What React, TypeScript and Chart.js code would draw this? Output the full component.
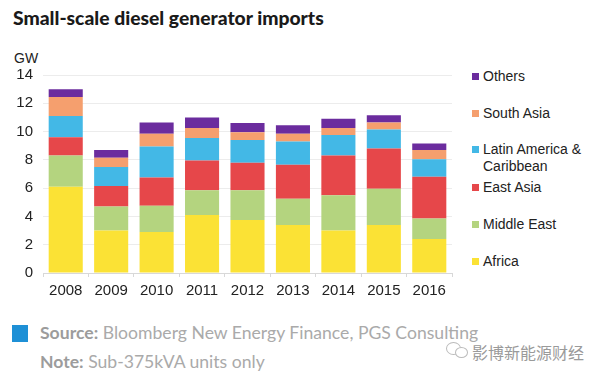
import React, { useEffect, useRef } from "react";
import { Chart, registerables } from "chart.js";

Chart.register(...registerables);

const years = ["2008", "2009", "2010", "2011", "2012", "2013", "2014", "2015", "2016"];
const africa = [6.1, 3.0, 2.9, 4.1, 3.75, 3.4, 3.0, 3.4, 2.4];
const middleEast = [2.2, 1.7, 1.85, 1.75, 2.1, 1.85, 2.5, 2.55, 1.45];
const eastAsia = [1.3, 1.45, 2.0, 2.1, 1.95, 2.4, 2.8, 2.85, 2.95];
const latinAmerica = [1.5, 1.35, 2.2, 1.6, 1.6, 1.65, 1.45, 1.35, 1.25];
const southAsia = [1.35, 0.65, 0.9, 0.7, 0.55, 0.55, 0.5, 0.5, 0.65];
const others = [0.55, 0.55, 0.8, 0.75, 0.65, 0.6, 0.65, 0.5, 0.45];
const yTicks = [0, 2, 4, 6, 8, 10, 12, 14];

const series = [
  { label: "Africa", data: africa, color: "#FBE235" },
  { label: "Middle East", data: middleEast, color: "#B4D47F" },
  { label: "East Asia", data: eastAsia, color: "#E6474A" },
  { label: "Latin America & Caribbean", data: latinAmerica, color: "#43B8E6" },
  { label: "South Asia", data: southAsia, color: "#F59F6E" },
  { label: "Others", data: others, color: "#6B2C9E" },
];

const legendItems = [
  { lines: ["Others"], color: "#6B2C9E", top: 68 },
  { lines: ["South Asia"], color: "#F59F6E", top: 105 },
  { lines: ["Latin America &", "Caribbean"], color: "#43B8E6", top: 141 },
  { lines: ["East Asia"], color: "#E6474A", top: 179 },
  { lines: ["Middle East"], color: "#B4D47F", top: 216 },
  { lines: ["Africa"], color: "#FBE235", top: 253 },
];

export default function App() {
  const ref = useRef<HTMLCanvasElement | null>(null);

  useEffect(() => {
    document.body.style.margin = "0";
    const canvas = ref.current;
    if (!canvas) return;
    const chart = new Chart(canvas, {
      type: "bar",
      data: {
        labels: years,
        datasets: series.map((s) => ({
          label: s.label,
          data: s.data,
          backgroundColor: s.color,
          borderWidth: 0,
          barPercentage: 0.75,
          categoryPercentage: 1,
        })),
      },
      options: {
        responsive: false,
        animation: false,
        layout: { padding: { top: 25, right: 8, left: 0, bottom: 0 } },
        plugins: { legend: { display: false }, tooltip: { enabled: false } },
        scales: {
          x: {
            stacked: true,
            grid: { drawOnChartArea: false, color: "#d8d8d8", tickLength: 4 },
            border: { color: "#d8d8d8" },
            ticks: {
              color: "#222",
              font: { family: "'Liberation Sans', Arial, sans-serif", size: 15 },
              padding: 5,
            },
            afterFit: (scale: any) => {
              scale.height = 27;
            },
          },
          y: {
            stacked: true,
            min: 0,
            max: 14,
            afterBuildTicks: (scale: any) => {
              scale.ticks = yTicks.map((v) => ({ value: v }));
            },
            grid: { color: "#ececec", drawTicks: false },
            border: { display: false },
            ticks: {
              color: "#222",
              font: { family: "'Liberation Sans', Arial, sans-serif", size: 15 },
              padding: 10,
            },
            afterFit: (scale: any) => {
              scale.width = 43;
            },
          },
        },
      },
    });
    return () => chart.destroy();
  }, []);

  const sans = "'Liberation Sans', Arial, sans-serif";

  return (
    <div style={{ position: "relative", width: 589, height: 380, background: "#fff", overflow: "hidden" }}>
      <div
        style={{
          position: "absolute",
          left: 13,
          top: 6,
          fontFamily: "Lato, sans-serif",
          fontWeight: 900,
          fontSize: 19.3,
          color: "#1a1a1a",
          whiteSpace: "nowrap",
        }}
      >
        Small-scale diesel generator imports
      </div>
      <div style={{ position: "absolute", left: 14, top: 50, fontFamily: sans, fontSize: 14, color: "#222" }}>GW</div>
      <canvas ref={ref} width={460} height={250} style={{ position: "absolute", left: 0, top: 50 }} />
      {legendItems.map((it) => (
        <div key={it.lines[0]} style={{ position: "absolute", left: 472, top: it.top, fontFamily: sans, fontSize: 14, color: "#222", lineHeight: "17px" }}>
          <span style={{ position: "absolute", left: 0, top: 5, width: 7, height: 7, background: it.color }} />
          <div style={{ marginLeft: 11, whiteSpace: "nowrap" }}>
            {it.lines.map((l) => (
              <div key={l}>{l}</div>
            ))}
          </div>
        </div>
      ))}
      <div style={{ position: "absolute", left: 12, top: 325, width: 16, height: 17, background: "#1E90D6" }} />
      <div style={{ position: "absolute", left: 40, top: 322, fontFamily: "Lato, sans-serif", fontSize: 17.6, color: "#aaaaaa", whiteSpace: "nowrap" }}>
        <span style={{ fontWeight: 700, color: "#9c9c9c" }}>Source:</span> Bloomberg New Energy Finance, PGS Consulting
      </div>
      <div style={{ position: "absolute", left: 40, top: 351, fontFamily: "Lato, sans-serif", fontSize: 17.6, color: "#aaaaaa", whiteSpace: "nowrap" }}>
        <span style={{ fontWeight: 700, color: "#9c9c9c" }}>Note:</span> Sub-375kVA units only
      </div>
      <div style={{ position: "absolute", left: 446, top: 342, width: 13, height: 11, border: "1px solid #bbb", borderRadius: "50%" }} />
      <div style={{ position: "absolute", left: 455, top: 347, width: 11, height: 9, border: "1px solid #bbb", borderRadius: "50%", background: "#fff" }} />
      <div style={{ position: "absolute", left: 472, top: 340, fontFamily: "'Noto Sans CJK SC', sans-serif", fontSize: 16, color: "#9a9a9a", whiteSpace: "nowrap" }}>
        影博新能源财经
      </div>
    </div>
  );
}
